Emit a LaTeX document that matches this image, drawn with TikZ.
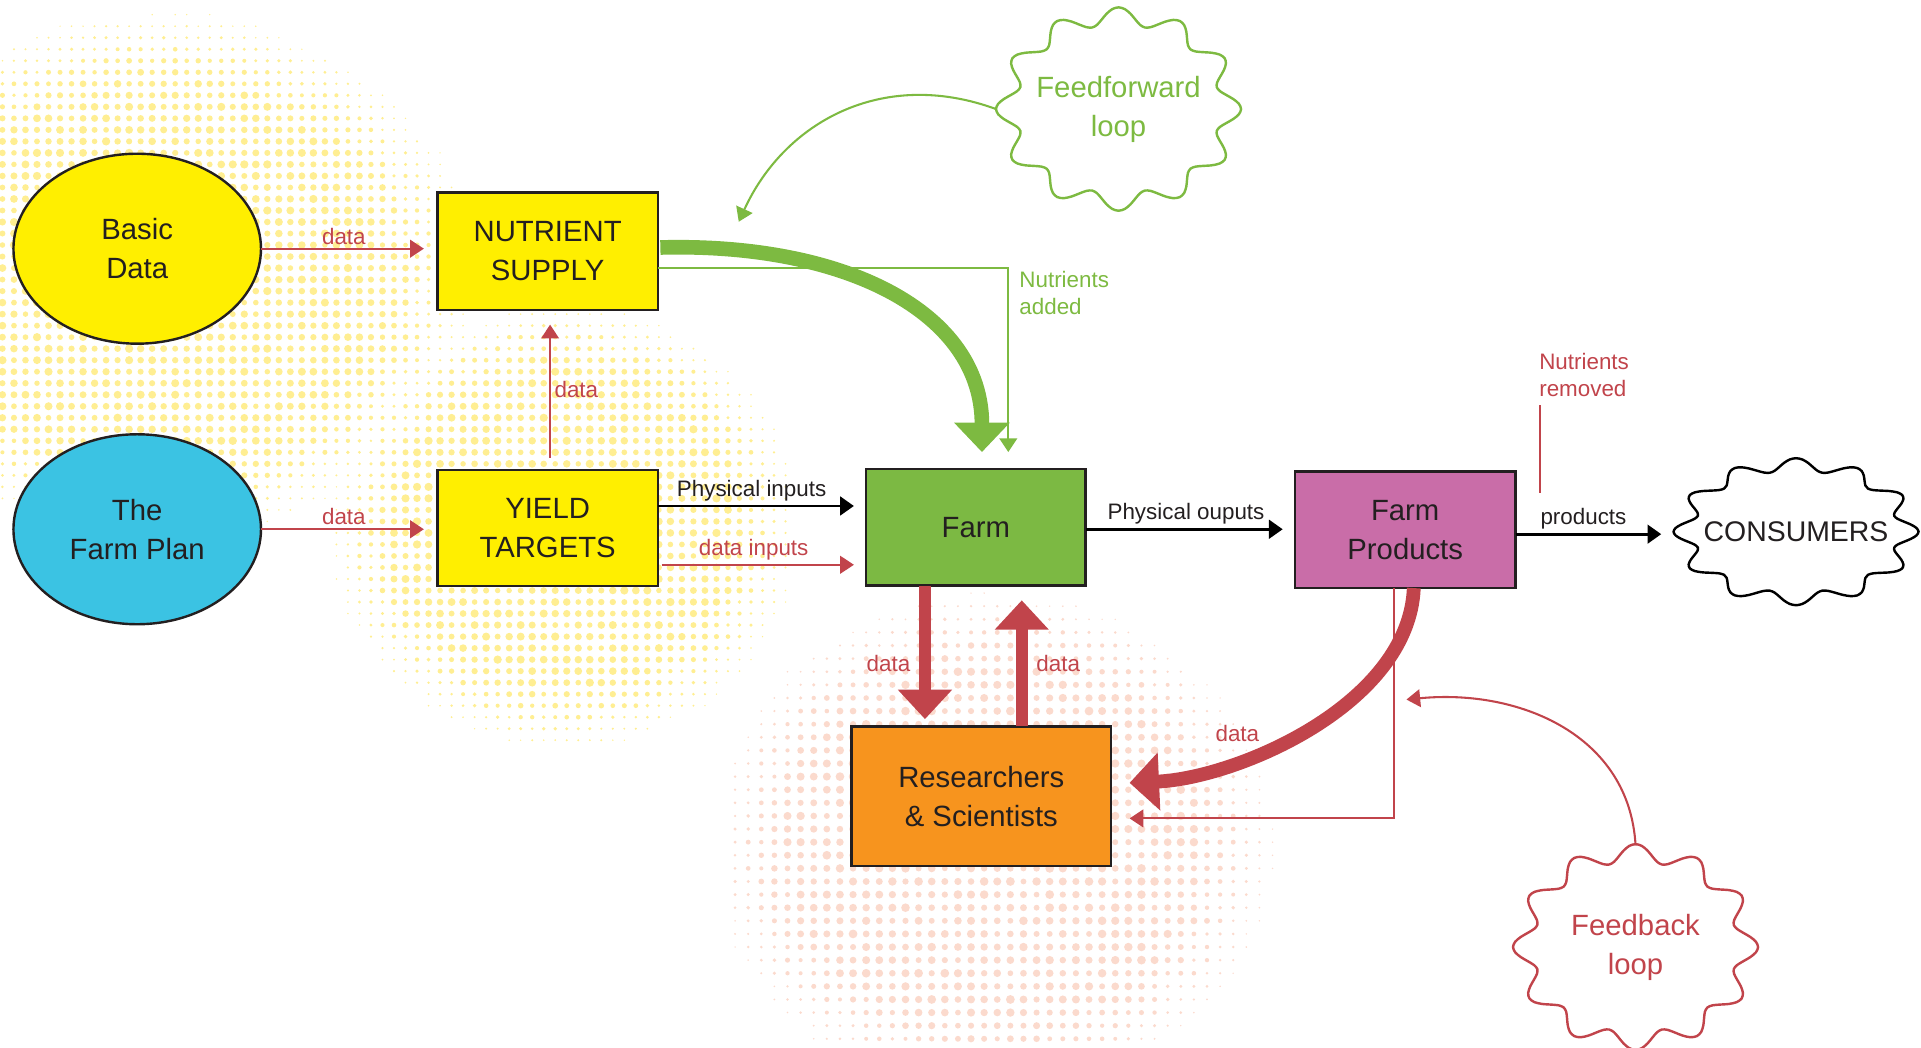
\documentclass[tikz,border=0pt]{standalone}
\usepackage{fontspec}
\setmainfont{Liberation Sans}
\usetikzlibrary{arrows.meta,shapes.geometric,calc}

\definecolor{yel}{HTML}{FFEF00}
\definecolor{cyanf}{HTML}{3BC3E3}
\definecolor{farmg}{HTML}{7CB943}
\definecolor{prodp}{HTML}{C96DA8}
\definecolor{orng}{HTML}{F7941E}
\definecolor{dred}{HTML}{C1444B}
\definecolor{lgreen}{HTML}{7DBA41}
\definecolor{ink}{HTML}{231F20}
\definecolor{ydot}{HTML}{FFEE92}
\definecolor{pdot}{HTML}{FBDACD}

\newcommand\wavyburst[4]{% node, rx, ry, colour
  \draw[#4, line width=1.4pt, shift={(#1.center)}]
    plot[smooth cycle, samples=120, domain=0:357]
    ({#2*(0.915+0.085*cos(12*\x))*cos(\x)}, {#3*(0.915+0.085*cos(12*\x))*sin(\x)});}

\begin{document}
\begin{tikzpicture}[x=0.025cm, y=-0.025cm,
  box/.style={draw=ink, line width=1.4pt, inner sep=0pt, outer sep=0pt, align=center,
    font=\fontsize{17}{22.7}\selectfont, text=ink},
  oval/.style={box, ellipse},
  burstlbl/.style={rectangle, inner sep=0pt, outer sep=0pt, align=center,
    minimum width=5cm, font=\fontsize{17}{22.7}\selectfont},
  lbl/.style={font=\fontsize{13}{15.6}\selectfont, inner sep=2pt},
  thinred/.style={draw=dred, line width=1.2pt, -{Triangle[width=0.36cm,length=0.28cm]}},
  thingreen/.style={draw=lgreen, line width=1.2pt, -{Triangle[width=0.36cm,length=0.28cm]}},
  thinblack/.style={draw=black, line width=1.6pt, -{Triangle[width=0.38cm,length=0.28cm]}},
  thickred/.style={draw=dred, line width=7pt, -{Triangle[width=1.07cm,length=0.6cm]}},
  thickredc/.style={draw=dred, line width=8pt, -{Triangle[width=1.15cm,length=0.6cm]}},
  thickgreen/.style={draw=lgreen, line width=8.5pt, -{Triangle[width=1.1cm,length=0.6cm]}},
]
\useasboundingbox (0,0) rectangle (1568,855);

% ---------- halftone background dots ----------
\pgfmathsetseed{7}
\foreach \i in {0,...,68} {
  \foreach \j in {0,...,64} {
    \pgfmathsetmacro\px{2+\i*9.4}
    \pgfmathsetmacro\py{12+\j*9.4}
    \pgfmathsetmacro\da{((\px-130)/275)^2+((\py-225)/230)^2}
    \pgfmathsetmacro\db{((\px-460)/205)^2+((\py-430)/195)^2}
    \pgfmathsetmacro\v{max(1-sqrt(\da),1-sqrt(\db),0)}
    \pgfmathsetmacro\r{0.085*min(1,3*\v)*(0.65+0.35*rnd)}
    \ifdim\r pt>0.015pt \fill[ydot] (\px,\py) circle[radius=\r cm]; \fi
  }
}
\foreach \i in {0,...,42} {
  \foreach \j in {0,...,38} {
    \pgfmathsetmacro\px{600+\i*10.7}
    \pgfmathsetmacro\py{452+\j*10.7}
    \pgfmathsetmacro\da{((\px-810)/245)^2+((\py-690)/220)^2}
    \pgfmathsetmacro\v{max(1-sqrt(\da),0)}
    \pgfmathsetmacro\r{0.09*min(1,3*\v)*(0.65+0.35*rnd)}
    \ifdim\r pt>0.015pt \fill[pdot] (\px,\py) circle[radius=\r cm]; \fi
  }
}

% ---------- nodes ----------
\node[oval, fill=yel, minimum width=5.05cm, minimum height=3.875cm] (bd) at (112,203) {Basic\\Data};
\node[oval, fill=cyanf, minimum width=5.05cm, minimum height=3.875cm] (fp) at (112,432) {The\\Farm Plan};
\node[box, fill=yel, minimum width=4.5cm, minimum height=2.4cm] (ns) at (447,205) {NUTRIENT\\SUPPLY};
\node[box, fill=yel, minimum width=4.5cm, minimum height=2.375cm] (yt) at (447,431) {YIELD\\TARGETS};
\node[box, fill=farmg, minimum width=4.475cm, minimum height=2.375cm] (farm) at (796.5,430.5) {Farm};
\node[box, fill=prodp, minimum width=4.5cm, minimum height=2.375cm] (prod) at (1147,432.5) {Farm\\Products};
\node[box, fill=orng, minimum width=5.3cm, minimum height=2.85cm] (res) at (801,650) {Researchers\\\& Scientists};

\node[burstlbl, minimum height=4.15cm, text=lgreen] (ffl) at (913,89) {Feedforward\\loop};
\node[burstlbl, minimum height=4.15cm, text=dred] (fbl) at (1335,773) {Feedback\\loop};
\node[burstlbl, minimum height=3cm, text=ink, font=\fontsize{16.5}{20}\selectfont] (cons) at (1466,434) {CONSUMERS};
\wavyburst{ffl}{100}{83}{lgreen}
\wavyburst{fbl}{100}{84}{dred}
\wavyburst{cons}{100}{60}{black}

\node[lbl, text=dred, align=left] (nr) at (1293,306) {Nutrients\\removed};
\node[lbl, text=lgreen, align=left, anchor=west] (na) at (829,239) {Nutrients\\added};
\node[lbl, text=dred] (dcurve) at (1010,599) {data};
\coordinate (fftip) at (603,181);
\coordinate (fbtip) at (1148,571);

% ---------- connectors ----------
\draw[thinred, shorten >=0.275cm] (bd.east) -- (bd.east -| ns.west)
  node[lbl, pos=0.47, above, text=dred] {data};
\draw[thinred, shorten >=0.275cm] (fp.east) -- (fp.east -| yt.west)
  node[lbl, pos=0.47, above, text=dred] {data};
\draw[thinred, shorten <=0.25cm, shorten >=0.3cm] ($(yt.north)+(2,0)$) -- ($(ns.south)+(2,0)$)
  node[lbl, midway, right, text=dred] {data};

\draw[thinblack, shorten >=0.25cm] ($(yt.east)+(0,-18)$) -- ($(yt.east -| farm.west)+(0,-18)$)
  node[lbl, pos=0.45, above, text=ink] {Physical inputs};
\draw[thinred, shorten >=0.25cm] ($(yt.east)+(3,30)$) -- ($(yt.east -| farm.west)+(0,30)$)
  node[lbl, pos=0.45, above, text=dred] {data inputs};
\draw[thinblack, shorten >=0.25cm] ($(farm.east)+(0,1.5)$) -- ($(farm.east -| prod.west)+(0,1.5)$)
  node[lbl, pos=0.48, above, text=ink] {Physical ouputs};
\draw[thinblack, shorten >=0.25cm] ($(prod.east)+(0,3.5)$) -- ($(prod.east -| cons.west)+(0,3.5)$)
  node[lbl, pos=0.43, above, text=ink] {products};

\draw[dred, line width=1.2pt] ($(nr.south west)+(4,4)$) -- ++(0,72);

% feedforward
\draw[thickgreen] ($(ns.east)+(2,-3)$) .. controls (690,198) and (801.5,255) .. ($(farm.north)+(5,-14)$);
\draw[thingreen] ($(ns.east)+(0,14)$) -| ($(farm.north)+(26.5,-14)$);
\draw[thingreen] (ffl.west) .. controls (720,55) and (640,100) .. (fftip);

% farm <-> researchers
\draw[thickred] ($(farm.south)+(-41.5,0)$) -- ($(farm.south |- res.north)+(-41.5,-6)$)
  node[lbl, pos=0.58, left, text=dred, xshift=-3pt] {data};
\draw[thickred] ($(res.north)+(33,0)$) -- ($(res.north |- farm.south)+(33,12)$)
  node[lbl, pos=0.5, right, text=dred, xshift=3pt] {data};

% feedback
\draw[thickredc] ($(prod.south)+(7,0)$) .. controls (1150,575) and (1010,635) .. ($(res.east)+(15,-11)$);
\draw[thinred] ($(prod.south)+(-9,0)$) |- ($(res.east)+(15,18)$);
\draw[thinred] (fbl.north) .. controls (1330,600) and (1240,562) .. (fbtip);
\end{tikzpicture}
\end{document}
